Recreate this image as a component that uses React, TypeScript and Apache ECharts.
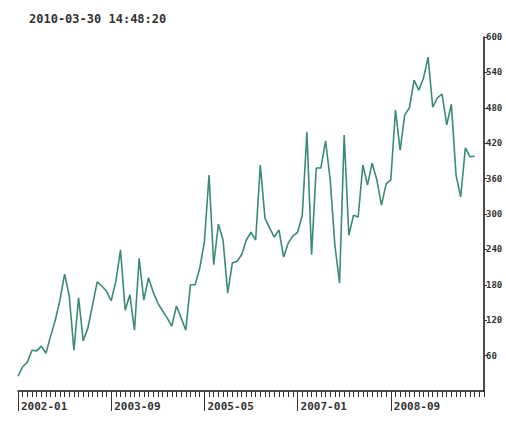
import React, { useEffect, useRef } from "react";
import * as echarts from "echarts";

const titleText = "2010-03-30 14:48:20";
const startYear = 2002;
const monthCount = 101; // 2002-01 .. 2010-05 on the axis
const values = [
  25, 41, 49, 69, 68, 76, 64, 93, 120, 154,
  198, 161, 69, 158, 85, 107, 146, 185, 178, 169,
  153, 186, 239, 137, 163, 103, 225, 154, 192, 168,
  149, 136, 124, 110, 144, 124, 103, 180, 180, 208,
  253, 366, 214, 283, 256, 166, 217, 220, 231, 256,
  269, 256, 383, 293, 276, 261, 273, 227, 251, 263,
  269, 298, 439, 231, 378, 378, 424, 358, 247, 183,
  434, 264, 298, 295, 383, 349, 386, 358, 315, 351,
  358, 476, 408, 468, 480, 527, 510, 530, 566, 481,
  497, 503, 451, 486, 366, 329, 412, 397, 398,
];
const yMin = 0;
const yMax = 600;
const yStep = 60;
const labelEvery = 20;
const lastLabelIndex = 80;

const months: string[] = [];
for (let i = 0; i < monthCount; i++) {
  const y = startYear + Math.floor(i / 12);
  const m = (i % 12) + 1;
  months.push(`${y}-${m < 10 ? "0" + m : m}`);
}

export default function App() {
  const ref = useRef<HTMLDivElement>(null);
  useEffect(() => {
    document.body.style.margin = "0";
    const chart = echarts.init(ref.current!, null, { renderer: "svg" });
    const mono = "DejaVu Sans Mono";
    const isLabel = (i: number) => i % labelEvery === 0 && i <= lastLabelIndex;
    chart.setOption({
      animation: false,
      backgroundColor: "#ffffff",
      title: {
        text: titleText,
        left: 24,
        top: 8,
        textStyle: { fontSize: 12, fontFamily: mono, fontWeight: "bold", color: "#333" },
      },
      grid: { left: 18, right: 22, top: 37, bottom: 32, outerBoundsMode: "none", containLabel: false },
      xAxis: [
        {
          type: "category",
          data: months,
          boundaryGap: false,
          axisLine: { show: true, lineStyle: { color: "#111", width: 1.5 } },
          axisTick: { show: true, interval: 0, length: 6, lineStyle: { color: "#333" } },
          axisLabel: { show: false },
          splitLine: { show: false },
        },
        {
          type: "category",
          data: months,
          boundaryGap: false,
          position: "bottom",
          axisLine: { show: false },
          axisTick: {
            show: true,
            interval: isLabel,
            length: 20,
            lineStyle: { color: "#333" },
          },
          axisLabel: {
            show: true,
            interval: isLabel,
            align: "left",
            margin: 10,
            padding: [0, 0, 0, 3],
            fontSize: 11,
            fontFamily: mono,
            fontWeight: "bold",
            color: "#333",
          },
          splitLine: { show: false },
        },
      ],
      yAxis: {
        type: "value",
        position: "right",
        min: yMin,
        max: yMax,
        interval: yStep,
        axisLine: { show: true, lineStyle: { color: "#111", width: 1.5 } },
        axisTick: { show: true, length: 3, lineStyle: { color: "#333" } },
        axisLabel: {
          showMinLabel: false,
          margin: 2,
          fontSize: 9,
          fontFamily: mono,
          fontWeight: "bold",
          color: "#333",
        },
        splitLine: { show: false },
      },
      series: [
        {
          type: "line",
          xAxisIndex: 0,
          data: values,
          showSymbol: false,
          symbol: "none",
          lineStyle: { color: "#3a8a78", width: 1.6 },
        },
      ],
    });
    return () => chart.dispose();
  }, []);
  return <div ref={ref} style={{ width: 506, height: 423 }} />;
}
